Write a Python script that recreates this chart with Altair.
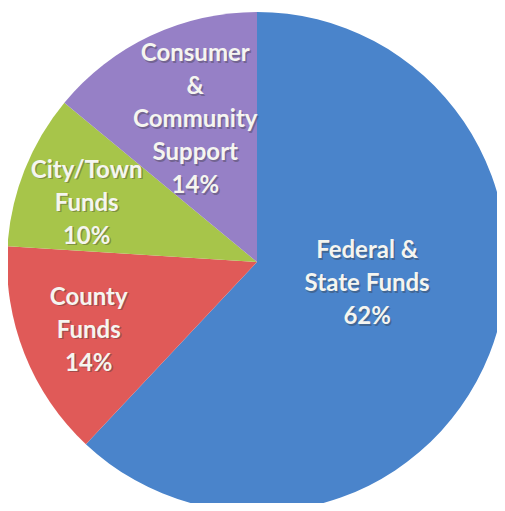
import altair as alt
import pandas as pd

categories = ["Federal & State Funds", "County Funds", "City/Town Funds", "Consumer & Community Support"]
shares = [62, 14, 10, 14]
labels = ["Federal &\nState Funds\n62%", "County\nFunds\n14%", "City/Town\nFunds\n10%",
          "Consumer\n&\nCommunity\nSupport\n14%"]
colors = ["#4a84cb", "#e05a58", "#a7c54a", "#9680c6"]

df = pd.DataFrame({"category": categories, "share": shares, "label": labels,
                   "order": list(range(len(categories)))})

CX, CY, R = 249, 254, 250
LH = 33
theta_scale = alt.Scale(domain=[0, 100], range=[0, 6.283185307179586])

base = alt.Chart(df).transform_window(
    cum="sum(share)", sort=[alt.SortField("order")]
).transform_calculate(
    start="datum.cum - datum.share", mid="datum.cum - datum.share / 2"
)

arcs = base.mark_arc(outerRadius=R, stroke=None).encode(
    theta=alt.Theta("start:Q", scale=theta_scale),
    theta2="cum:Q",
    color=alt.Color("category:N", scale=alt.Scale(domain=categories, range=colors), legend=None),
    x=alt.value(CX), y=alt.value(CY),
)

# per-label radius and offsets (dy shifts the first line so the block is centred)
label_pos = {
    "Federal & State Funds": (112, 6, -19 - LH),
    "County Funds": (181, 0, 2 - LH),
    "City/Town Funds": (180, -3, 8 - LH),
    "Consumer & Community Support": (159, 6, 2 - 2 * LH),
}

layers = [arcs]
for cat in categories:
    r, dx, dy = label_pos[cat]
    common = dict(radius=r, lineBreak="\n", lineHeight=LH, fontSize=24, fontWeight="bold",
                  font="Lato", align="center", baseline="middle")
    shadow = base.transform_filter(alt.datum.category == cat).mark_text(
        dx=dx + 1.5, dy=dy + 1.5, color="#333333", opacity=0.35, **common
    ).encode(theta=alt.Theta("mid:Q", scale=theta_scale), text="label:N",
             x=alt.value(CX), y=alt.value(CY))
    txt = base.transform_filter(alt.datum.category == cat).mark_text(
        dx=dx, dy=dy, color="#f5f5f0", **common
    ).encode(theta=alt.Theta("mid:Q", scale=theta_scale), text="label:N",
             x=alt.value(CX), y=alt.value(CY))
    layers += [shadow, txt]

chart = alt.layer(*layers).properties(
    width=489, height=495, padding=0, autosize=alt.AutoSizeParams(type="none")
).configure_view(stroke=None)

chart.save("out.html", embed_options={"renderer": "svg", "actions": False})
